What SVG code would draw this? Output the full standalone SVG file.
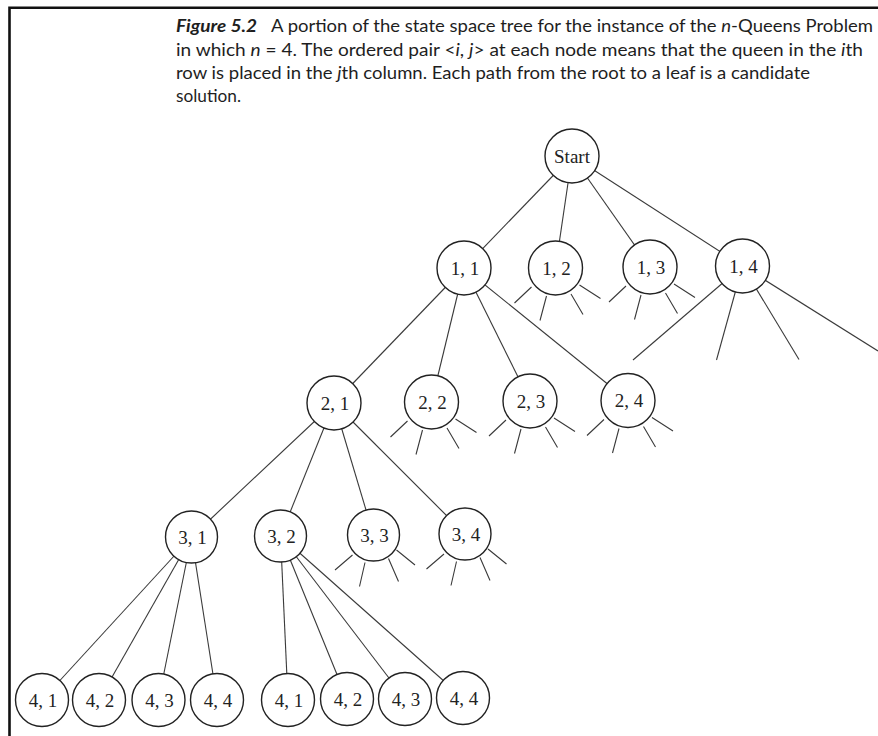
<svg xmlns="http://www.w3.org/2000/svg" xmlns:xlink="http://www.w3.org/1999/xlink" width="878" height="736" viewBox="0 0 878 736">
<style>
.cap{font-family:Lato,"Open Sans","Noto Sans",sans-serif;font-size:16.5px;fill:#1e1e1e}
.bi{font-weight:bold;font-style:italic}
.it{font-style:italic}
.edge{stroke:#3a3a3a;stroke-width:1.1;fill:none}
.node circle{fill:#fff;stroke:#222;stroke-width:1.4}
.node text{font-family:"Liberation Serif","Times New Roman",serif;font-size:19px;fill:#222;text-anchor:middle}
</style>
<defs>
<path id="stubs" class="edge" d="M-24,19 L-41,35 M-9,28 L-15.5,52.5 M15.5,26 L27.5,46.5 M24,17 L45,30.5"/>
<path id="stubs3" class="edge" d="M-21,20 L-38.5,35 M-8.5,27.5 L-14,51.5 M15,23.5 L25,46.5 M23,15 L41.5,30"/>
</defs>
<rect width="878" height="736" fill="#fff"/>
<path d="M9.5,736 V7.8 H878" fill="none" stroke="#111" stroke-width="2.6"/>
<g id="caption">
<text class="cap bi" x="176" y="32" textLength="81" lengthAdjust="spacingAndGlyphs">Figure 5.2</text>
<text class="cap" x="271" y="32" textLength="602" lengthAdjust="spacingAndGlyphs">A portion of the state space tree for the instance of the <tspan class="it">n</tspan>-Queens Problem</text>
<text class="cap" x="176" y="55.5" textLength="687" lengthAdjust="spacingAndGlyphs">in which <tspan class="it">n</tspan> = 4. The ordered pair &lt;<tspan class="it">i</tspan>, <tspan class="it">j</tspan>&gt; at each node means that the queen in the <tspan class="it">i</tspan>th</text>
<text class="cap" x="176" y="78.5" textLength="634" lengthAdjust="spacingAndGlyphs">row is placed in the <tspan class="it">j</tspan>th column. Each path from the root to a leaf is a candidate</text>
<text class="cap" x="176" y="101.5" textLength="65" lengthAdjust="spacingAndGlyphs">solution.</text>
</g>
<g id="connectors">
<line class="edge" x1="572" y1="156" x2="464" y2="268"/>
<line class="edge" x1="572" y1="156" x2="555.5" y2="268"/>
<line class="edge" x1="572" y1="156" x2="650" y2="267"/>
<line class="edge" x1="572" y1="156" x2="742.5" y2="266"/>
<line class="edge" x1="464" y1="268" x2="334" y2="403"/>
<line class="edge" x1="464" y1="268" x2="431.5" y2="402"/>
<line class="edge" x1="464" y1="268" x2="530" y2="401"/>
<line class="edge" x1="464" y1="268" x2="628" y2="400.5"/>
<line class="edge" x1="742.5" y1="266" x2="633" y2="360"/>
<line class="edge" x1="742.5" y1="266" x2="716.5" y2="360"/>
<line class="edge" x1="742.5" y1="266" x2="799" y2="359.5"/>
<line class="edge" x1="742.5" y1="266" x2="878" y2="351"/>
<line class="edge" x1="334" y1="403" x2="191.5" y2="537"/>
<line class="edge" x1="334" y1="403" x2="280.5" y2="536"/>
<line class="edge" x1="334" y1="403" x2="373.5" y2="535"/>
<line class="edge" x1="334" y1="403" x2="465" y2="534"/>
<line class="edge" x1="191.5" y1="537" x2="42" y2="700"/>
<line class="edge" x1="191.5" y1="537" x2="99" y2="700"/>
<line class="edge" x1="191.5" y1="537" x2="158.5" y2="700"/>
<line class="edge" x1="191.5" y1="537" x2="217" y2="700"/>
<line class="edge" x1="280.5" y1="536" x2="288" y2="700"/>
<line class="edge" x1="280.5" y1="536" x2="347" y2="699"/>
<line class="edge" x1="280.5" y1="536" x2="405" y2="699"/>
<line class="edge" x1="280.5" y1="536" x2="463" y2="698"/>
<use xlink:href="#stubs" x="555.5" y="268"/>
<use xlink:href="#stubs" x="650" y="267"/>
<use xlink:href="#stubs" x="431.5" y="402"/>
<use xlink:href="#stubs" x="530" y="401"/>
<use xlink:href="#stubs" x="628" y="400.5"/>
<use xlink:href="#stubs3" x="373.5" y="535"/>
<use xlink:href="#stubs3" x="465" y="534"/>
</g>
<g id="n-start" class="node"><circle cx="572" cy="156" r="27"/><text x="572" y="162.5">Start</text></g>
<g id="n-1-1" class="node"><circle cx="464" cy="268" r="27"/><text x="465" y="274.5">1, 1</text></g>
<g id="n-1-2" class="node"><circle cx="555.5" cy="268" r="27"/><text x="556.5" y="274.5">1, 2</text></g>
<g id="n-1-3" class="node"><circle cx="650" cy="267" r="27"/><text x="651" y="273.5">1, 3</text></g>
<g id="n-1-4" class="node"><circle cx="742.5" cy="266" r="27"/><text x="743.5" y="272.5">1, 4</text></g>
<g id="n-2-1" class="node"><circle cx="334" cy="403" r="27"/><text x="335" y="409.5">2, 1</text></g>
<g id="n-2-2" class="node"><circle cx="431.5" cy="402" r="27"/><text x="432.5" y="408.5">2, 2</text></g>
<g id="n-2-3" class="node"><circle cx="530" cy="401" r="27"/><text x="531" y="407.5">2, 3</text></g>
<g id="n-2-4" class="node"><circle cx="628" cy="400.5" r="27"/><text x="629" y="407">2, 4</text></g>
<g id="n-3-1" class="node"><circle cx="191.5" cy="537" r="26"/><text x="192.5" y="543.5">3, 1</text></g>
<g id="n-3-2" class="node"><circle cx="280.5" cy="536" r="26"/><text x="281.5" y="542.5">3, 2</text></g>
<g id="n-3-3" class="node"><circle cx="373.5" cy="535" r="26"/><text x="374.5" y="541.5">3, 3</text></g>
<g id="n-3-4" class="node"><circle cx="465" cy="534" r="26"/><text x="466" y="540.5">3, 4</text></g>
<g id="n-4-1a" class="node"><circle cx="42" cy="700" r="26.5"/><text x="43" y="706.5">4, 1</text></g>
<g id="n-4-2a" class="node"><circle cx="99" cy="700" r="26.5"/><text x="100" y="706.5">4, 2</text></g>
<g id="n-4-3a" class="node"><circle cx="158.5" cy="700" r="26.5"/><text x="159.5" y="706.5">4, 3</text></g>
<g id="n-4-4a" class="node"><circle cx="217" cy="700" r="26.5"/><text x="218" y="706.5">4, 4</text></g>
<g id="n-4-1b" class="node"><circle cx="288" cy="700" r="26.5"/><text x="289" y="706.5">4, 1</text></g>
<g id="n-4-2b" class="node"><circle cx="347" cy="699" r="26.5"/><text x="348" y="705.5">4, 2</text></g>
<g id="n-4-3b" class="node"><circle cx="405" cy="699" r="26.5"/><text x="406" y="705.5">4, 3</text></g>
<g id="n-4-4b" class="node"><circle cx="463" cy="698" r="26.5"/><text x="464" y="704.5">4, 4</text></g>
</svg>
